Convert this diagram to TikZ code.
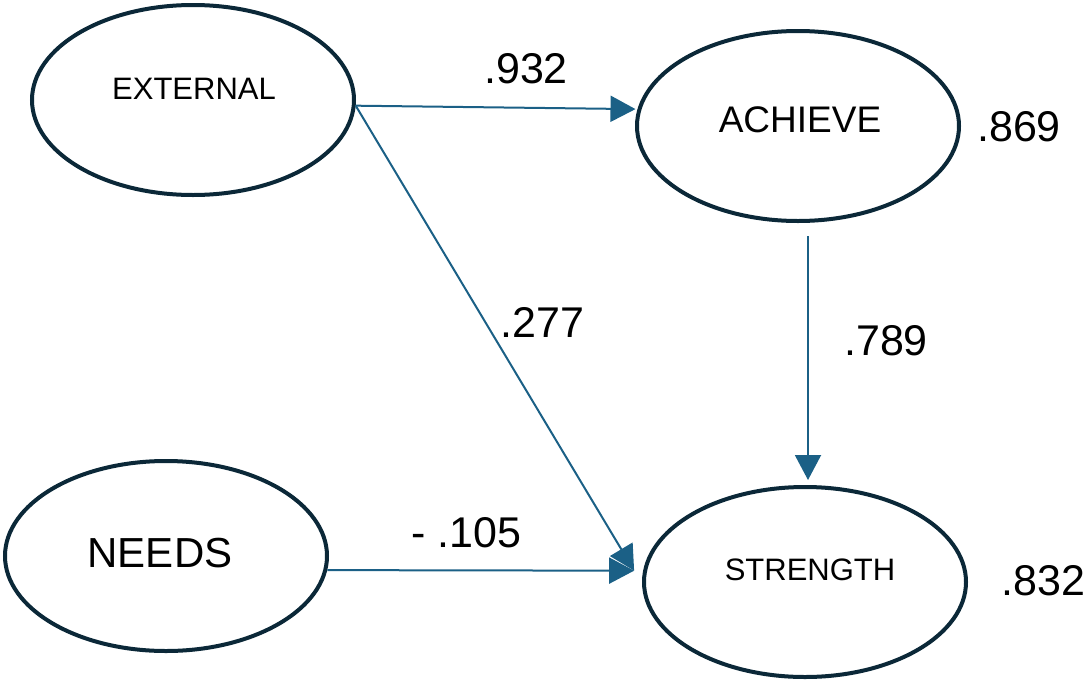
\documentclass[tikz,border=0pt]{standalone}
\usepackage{fontspec}
\setmainfont{Liberation Sans}
\usetikzlibrary{shapes.geometric,arrows.meta}
\definecolor{ringc}{HTML}{0B2838}
\definecolor{arrc}{HTML}{1B6086}
\tikzset{
  latent/.style={ellipse, draw=ringc, line width=3pt, minimum width=241.5pt, minimum height=142.5pt, inner sep=0pt},
  arr/.style={draw=arrc, line width=1.5pt, -{Triangle[length=18.75pt, width=19.5pt]}},
  coef/.style={anchor=base, inner sep=0pt, font=\fontsize{32.25pt}{38pt}\selectfont},
  lbl/.style={anchor=base, inner sep=0pt},
}
\begin{document}
\begin{tikzpicture}[x=0.75pt, y=-0.75pt]
\useasboundingbox (0,0) rectangle (1085,682);
% latent variables
\node[latent] (ext) at (193,100) {};
\node[latent] (ach) at (798,126) {};
\node[latent] (nee) at (166,556) {};
\node[latent] (str) at (805,582) {};
% names
\node[lbl, font=\fontsize{23.25pt}{28pt}\selectfont] (extT) at (194,99) {EXTERNAL};
\node[lbl, font=\fontsize{27.75pt}{33pt}\selectfont] (achT) at (800,132) {ACHIEVE};
\node[lbl, font=\fontsize{31.5pt}{38pt}\selectfont] (neeT) at (160,567) {NEEDS};
\node[lbl, font=\fontsize{23.25pt}{28pt}\selectfont] (strT) at (810,580) {STRENGTH};
% paths
\draw[arr, shorten >=1.5pt] (ext.-2.5) -- (ach.174);
\draw[arr] (ext.-2.5) -- ([xshift=-6.75pt]str.176);
\draw[arr, shorten <=9.75pt, shorten >=3.75pt] ([xshift=7.5pt]ach.south) -- ([xshift=2.25pt]str.north);
\draw[arr] (nee.-5.6) -- ([xshift=-6.75pt]str.176);
% coefficients
\node[coef] (c1) at (526,83) {.932};
\node[coef] (c2) at (1019,141) {.869};
\node[coef] (c3) at (542.5,337) {.277};
\node[coef] (c4) at (886,355) {.789};
\node[coef] (c5) at (466.5,547) {- .105};
\node[coef] (c6) at (1043.5,595) {.832};
\end{tikzpicture}
\end{document}
